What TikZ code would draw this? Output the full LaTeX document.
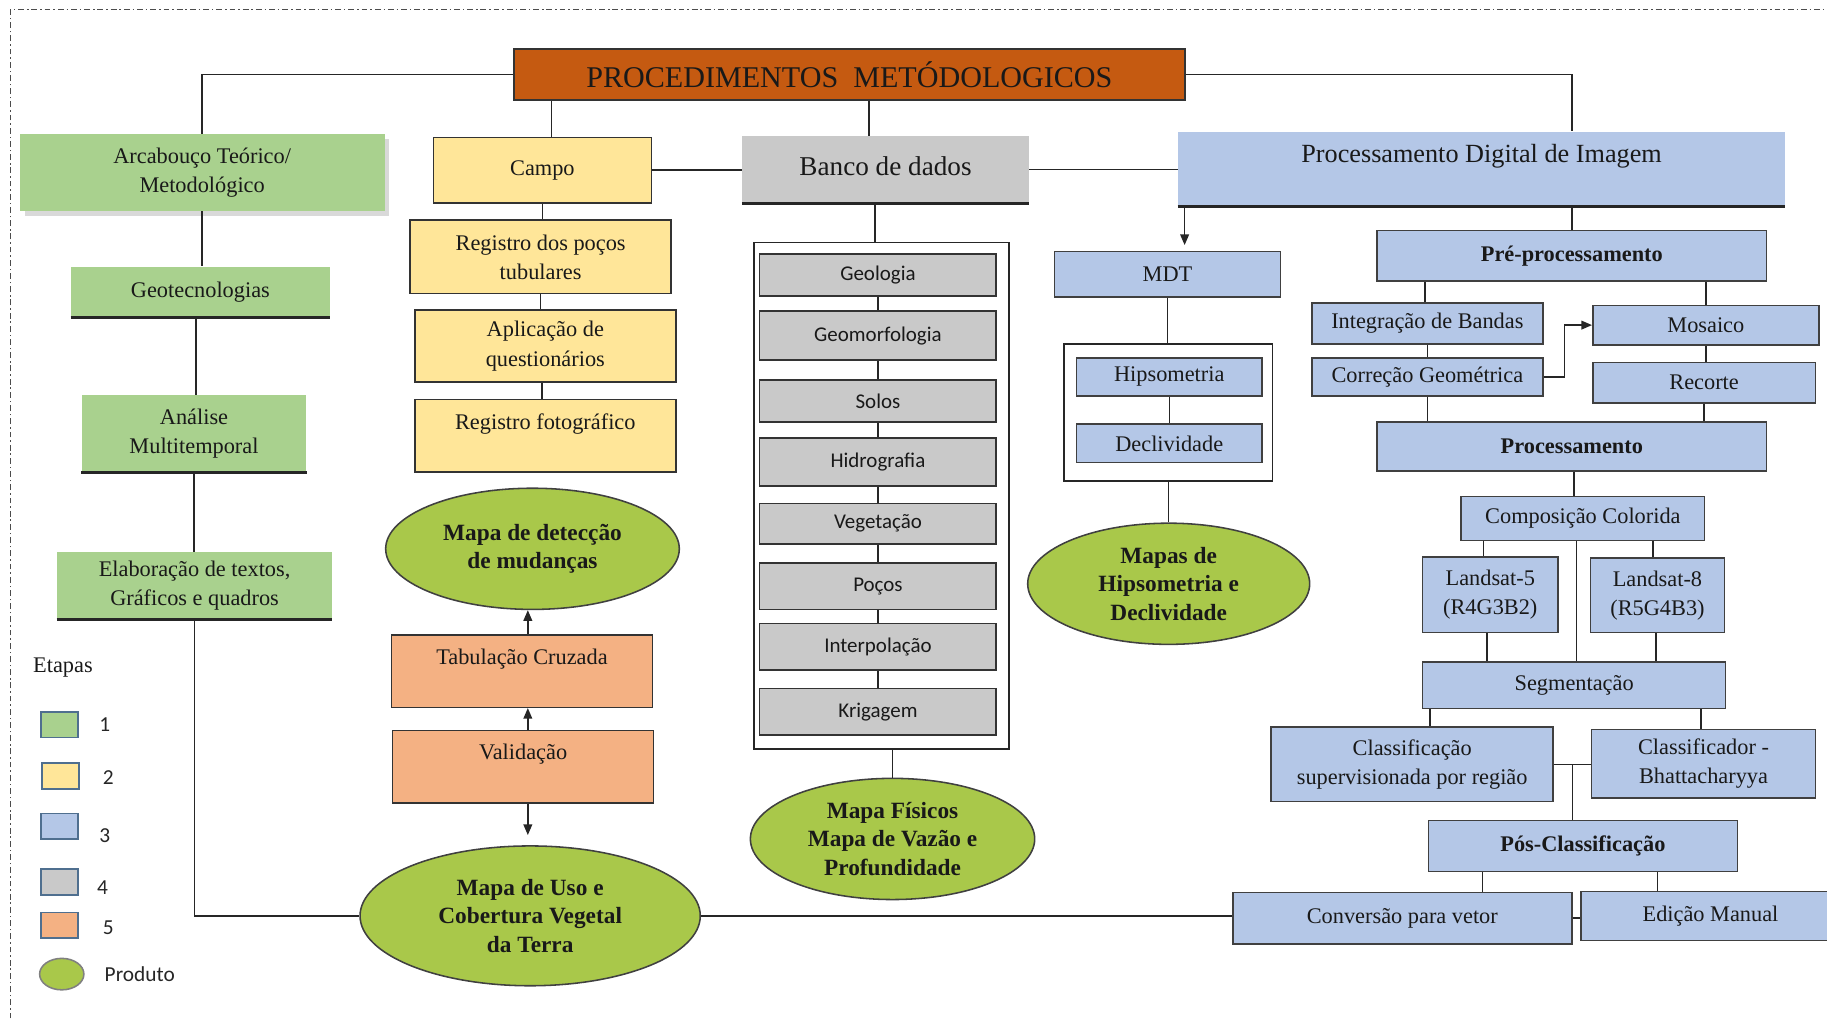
\documentclass[tikz,border=0pt]{standalone}
\usepackage{fontspec}
\setmainfont{Liberation Serif}
\newfontfamily\sansfam{Carlito}
\usetikzlibrary{arrows.meta,calc,shapes.geometric,shadows}
\definecolor{verde}{HTML}{A9D18E}
\definecolor{amarelo}{HTML}{FFE699}
\definecolor{azul}{HTML}{B4C7E7}
\definecolor{cinza}{HTML}{C9C9C9}
\definecolor{laranja}{HTML}{F4B183}
\definecolor{telha}{HTML}{C55A11}
\definecolor{produto}{HTML}{A9C84A}
\definecolor{bordalegenda}{HTML}{4F6F8F}
\tikzset{
    wh/.style 2 args={minimum width=#1*0.6pt, minimum height=#2*0.6pt, inner sep=0pt}, % box size in picture units
    base/.style={rectangle, align=center, text=black!90, font=\fontsize{11.5}{15}\selectfont},
    etapa1/.style={base, fill=verde},
    etapa2/.style={base, fill=amarelo, draw=black!80, line width=0.8pt},
    etapa3/.style={base, fill=azul, draw=black!75, line width=0.8pt},
    etapa4/.style={base, fill=cinza, draw=black!80, line width=0.8pt, font=\sansfam\fontsize{10.8}{13}\selectfont},
    etapa5/.style={base, fill=laranja, draw=black!80, line width=0.8pt},
    caixa/.style={rectangle, draw=black!85, fill=white, line width=0.8pt},
    produto/.style={ellipse, fill=produto, draw=black!75, line width=0.8pt, align=center, inner sep=0pt,
        text=black!90, font=\bfseries\fontsize{12}{14.8}\selectfont},
    liga/.style={draw=black!85, line width=0.8pt},
    seta/.style={liga, -{Triangle[length=5.5pt,width=4.5pt]}},
    fundo/.style={draw=black!85, line width=1.6pt},
    moldura/.style={draw=black!70, line width=0.5pt, dash pattern=on 3pt off 1.5pt on 0.8pt off 1.5pt}
}

\begin{document}
\begin{tikzpicture}[x=0.6pt,y=-0.6pt]
\useasboundingbox (0,0) rectangle (1568,874);
\draw[moldura] (9,874) -- (9,8) -- (1568,8);

\node[base, wh={576}{44}, fill=telha, draw=black!80, line width=0.8pt,
      font=\fontsize{15.5}{18}\selectfont] (titulo) at (729,64) {PROCEDIMENTOS\ \ METÓDOLOGICOS};

\begin{scope}[every node/.style={etapa1}]
    \node[wh={313}{66}, drop shadow={opacity=0.3, shadow xshift=2.5pt, shadow yshift=-2.5pt}] (arc) at (173.5,148) {\raisebox{1.5pt}{Arcabouço Teórico/}\\\raisebox{1.5pt}{Metodológico}};
    \node[wh={222}{43}] (geo) at (172,250.5) {Geotecnologias};
    \node[wh={193}{66}] (ana) at (166.5,372) {Análise\\Multitemporal};
    \node[wh={236}{57}] (ela) at (167,502.5) {Elaboração de textos,\\Gráficos e quadros};
\end{scope}

\begin{scope}[every node/.style={etapa2}]
    \node[wh={187}{56}] (campo) at (465.5,146) {Campo};
    \node[wh={224}{63}] (poco) at (464,220.5) {Registro dos poços\\tubulares};
    \node[wh={224}{62}] (quest) at (468,297) {Aplicação de\\questionários};
    \node[wh={224}{62}] (foto) at (468,374) {Registro fotográfico\\\mbox{}};
\end{scope}

\begin{scope}[every node/.style={etapa5}]
    \node[wh={224}{62}] (tab) at (448,576) {Tabulação Cruzada\\\mbox{}};
    \node[wh={224}{62}] (val) at (449,658) {Validação\\\mbox{}};
\end{scope}

\node[base, wh={246}{57}, fill=cinza, font=\fontsize{14}{17}\selectfont] (banco) at (760,145.5) {\raisebox{4pt}{Banco de dados}};
\node[caixa, wh={219}{435}] (cont1) at (756.5,425.5) {};
\begin{scope}[every node/.style={etapa4}]
    \node[wh={203}{36}] (b1) at (753.5,236) {Geologia};
    \node[wh={203}{42}] (b2) at (753.5,288) {Geomorfologia};
    \node[wh={203}{36}] (b3) at (753.5,344) {Solos};
    \node[wh={203}{41}] (b4) at (753.5,396.5) {Hidrografia};
    \node[wh={203}{35}] (b5) at (753.5,449.5) {Vegetação};
    \node[wh={203}{40}] (b6) at (753.5,503) {Poços};
    \node[wh={203}{40}] (b7) at (753.5,555) {Interpolação};
    \node[wh={203}{40}] (b8) at (753.5,611) {Krigagem};
\end{scope}

\node[base, wh={521}{64}, fill=azul, font=\fontsize{13.5}{16}\selectfont] (pdi) at (1271.5,145) {Processamento Digital de Imagem\\\mbox{}};
\node[caixa, wh={179}{118}] (cont2) at (1002.5,354) {};
\begin{scope}[every node/.style={etapa3}]
    \node[wh={194}{39}] (mdt) at (1002,235.5) {MDT};
    \node[wh={159}{33}] (hips) at (1003.5,323.5) {Hipsometria};
    \node[wh={159}{33}] (decl) at (1003.5,380.5) {Declividade};
    \node[wh={334}{43}, font=\bfseries\fontsize{11.5}{15}\selectfont] (pre) at (1349,219.5) {Pré-processamento};
    \node[wh={198}{35}] (integ) at (1225,277.5) {Integração de Bandas};
    \node[wh={198}{33}] (corr) at (1225,323.5) {Correção Geométrica};
    \node[wh={194}{34}] (mos) at (1464,279) {Mosaico};
    \node[wh={191}{35}] (rec) at (1462.5,328.5) {Recorte};
    \node[wh={334}{42}, font=\bfseries\fontsize{11.5}{15}\selectfont] (proc) at (1349,383) {Processamento};
    \node[wh={209}{38}] (comp) at (1358.5,445) {Composição Colorida};
    \node[wh={116}{65}] (ls5) at (1279,510.5) {Landsat-5\\(R4G3B2)};
    \node[wh={115}{64}] (ls8) at (1422.5,511) {Landsat-8\\(R5G4B3)};
    \node[wh={260}{40}] (seg) at (1351,588) {Segmentação};
    \node[wh={242}{64}] (csup) at (1212,656) {Classificação\\supervisionada por região};
    \node[wh={192}{59}] (cbha) at (1462,655.5) {Classificador -\\Bhattacharyya};
    \node[wh={265}{44}, font=\bfseries\fontsize{11.5}{15}\selectfont] (pos) at (1358.5,726) {Pós-Classificação};
    \node[wh={291}{44}] (conv) at (1203.5,788) {Conversão para vetor};
    \node[wh={222}{42}] (edic) at (1468,786) {Edição Manual};
\end{scope}

\begin{scope}[every node/.style={produto}]
    \node[wh={252}{104}] (mdet) at (457,471) {Mapa de detecção\\de mudanças};
    \node[wh={292}{120}] (muso) at (455,786) {Mapa de Uso e\\Cobertura Vegetal\\da Terra};
    \node[wh={244}{104}] (mfis) at (766,720) {\raisebox{-3pt}{Mapa Físicos}\\\raisebox{-3pt}{Mapa de Vazão e}\\\raisebox{-3pt}{Profundidade}};
    \node[wh={242}{104}] (mhip) at (1003,501) {\raisebox{-3pt}{Mapas de}\\\raisebox{-3pt}{Hipsometria e}\\\raisebox{-3pt}{Declividade}};
\end{scope}

\foreach \n in {geo,ana,ela,banco,pdi}
    \draw[fundo] (\n.south west) -- (\n.south east);

% ligacoes
\draw[liga] (titulo.west) -| (arc.north);
\draw[liga] (campo.north) ++(8,0) coordinate (c1) -- (c1 |- titulo.south);
\draw[liga] ($(banco.north)+(-14,0)$) coordinate (c2) -- (c2 |- titulo.south);
\draw[liga] (titulo.east) -| (pre.north |- pdi.north);
\draw[liga] (arc.south) -- (arc.south |- geo.north);
\draw[liga] (ana.north) ++(1.5,0) coordinate (c3) -- (c3 |- geo.south);
\draw[liga] (ana.south) -- (ana.south |- ela.north);
\draw[liga] (ela.south) |- (muso.west);
\draw[liga] (campo.east) -- (campo.east -| banco.west);
\draw[liga] (banco.east) -- (banco.east -| pdi.west);
\draw[liga] (campo.south) -- (campo.south |- poco.north);
\draw[liga] (poco.south) -- (poco.south |- quest.north);
\draw[liga] (quest.south) ++(-3,0) coordinate (c4) -- (c4 |- foto.north);
\draw[seta] (tab.north) ++(5,0) coordinate (c5) -- (c5 |- mdet.south);
\draw[seta] (val.north) ++(4,0) coordinate (c6) -- (c6 |- tab.south);
\coordinate (vfim) at ($(val.south)+(4,27)$);
\draw[seta] (vfim |- val.south) -- (vfim);

\draw[liga] ($(banco.south)+(-9,0)$) coordinate (c7) -- (c7 |- cont1.north);
\foreach \a/\b in {b1/b2,b2/b3,b3/b4,b4/b5,b5/b6,b6/b7,b7/b8}
    \draw[liga] (\a.south) -- (\a.south |- \b.north);
\draw[liga] (mfis.north) -- (mfis.north |- cont1.south);

\draw[seta] ($(pdi.south west)+(6,0)$) coordinate (c8) -- ($(c8 |- mdt.north)+(0,-5)$);
\draw[liga] (mdt.south) -- (mdt.south |- cont2.north);
\draw[liga] (hips.south) -- (hips.south |- decl.north);
\draw[liga] (mhip.north) -- (mhip.north |- cont2.south);

\draw[liga] (pre.north) -- (pre.north |- pdi.south);
\draw[liga] (integ.north) ++(-2,0) coordinate (c9) -- (c9 |- pre.south);
\draw[liga] (integ.south) -- (integ.south |- corr.north);
\draw[seta] (corr.east) -- ($(corr.east)+(18,0)$) |- (mos.west);
\draw[liga] (mos.north) -- (mos.north |- pre.south);
\draw[liga] (mos.south) -- (mos.south |- rec.north);
\draw[liga] (rec.south) -- (rec.south |- proc.north);
\draw[liga] (corr.south) -- (corr.south |- proc.north);
\draw[liga] (proc.south) ++(2,0) coordinate (c10) -- (c10 |- comp.north);
\draw[liga] (ls5.north) ++(-6,0) coordinate (c11) -- (c11 |- comp.south);
\draw[liga] (ls8.north) ++(-4,0) coordinate (c12) -- (c12 |- comp.south);
\draw[liga] (seg.north) ++(2,0) coordinate (c13) -- (c13 |- comp.south);
\draw[liga] (ls5.south) ++(-3,0) coordinate (c14) -- (c14 |- seg.north);
\draw[liga] (ls8.south) ++(-1.5,0) coordinate (c15) -- (c15 |- seg.north);
\draw[liga] ($(seg.south west)+(7,0)$) coordinate (c16) -- (c16 |- csup.north);
\draw[liga] (cbha.north) ++(-2,0) coordinate (c17) -- (c17 |- seg.south);
\draw[liga] (csup.east) -- (csup.east -| cbha.west);
\draw[liga] ($(csup.east)!0.5!(cbha.west)$) coordinate (c18) -- (c18 |- pos.north);
\draw[liga] ($(pos.south west)+(47,0)$) coordinate (c19) -- (c19 |- conv.north);
\draw[liga] ($(pos.south east)+(-69,0)$) coordinate (c20) -- (c20 |- edic.north);
\draw[liga] (conv.east) -- (conv.east -| edic.west);
\draw[liga] (muso.east) -- (muso.east -| conv.west);

% legenda
\node[font=\fontsize{11.5}{14}\selectfont, text=black!90] (etapas) at (54,573) {Etapas};
\begin{scope}[every node/.style={rectangle, wh={32}{22}, draw=bordalegenda, line width=0.8pt}]
    \node[fill=verde] (l1) at (51,622) {};
    \node[fill=amarelo] (l2) at (52,666) {};
    \node[fill=azul] (l3) at (51,709) {};
    \node[fill=cinza] (l4) at (51,757) {};
    \node[fill=laranja] (l5) at (51,794) {};
\end{scope}
\node[ellipse, wh={38}{27}, fill=produto, draw=black!50, line width=0.8pt] (l6) at (53,836) {};
\begin{scope}[every node/.style={font=\sansfam\fontsize{11}{13}\selectfont, text=black!85}]
    \node (t1) at (90,622) {1};
    \node (t2) at (93,667) {2};
    \node (t3) at (90,717) {3};
    \node (t4) at (88,762) {4};
    \node (t5) at (93,796) {5};
    \node[anchor=west] (t6) at (84,836) {Produto};
\end{scope}
\end{tikzpicture}
\end{document}
